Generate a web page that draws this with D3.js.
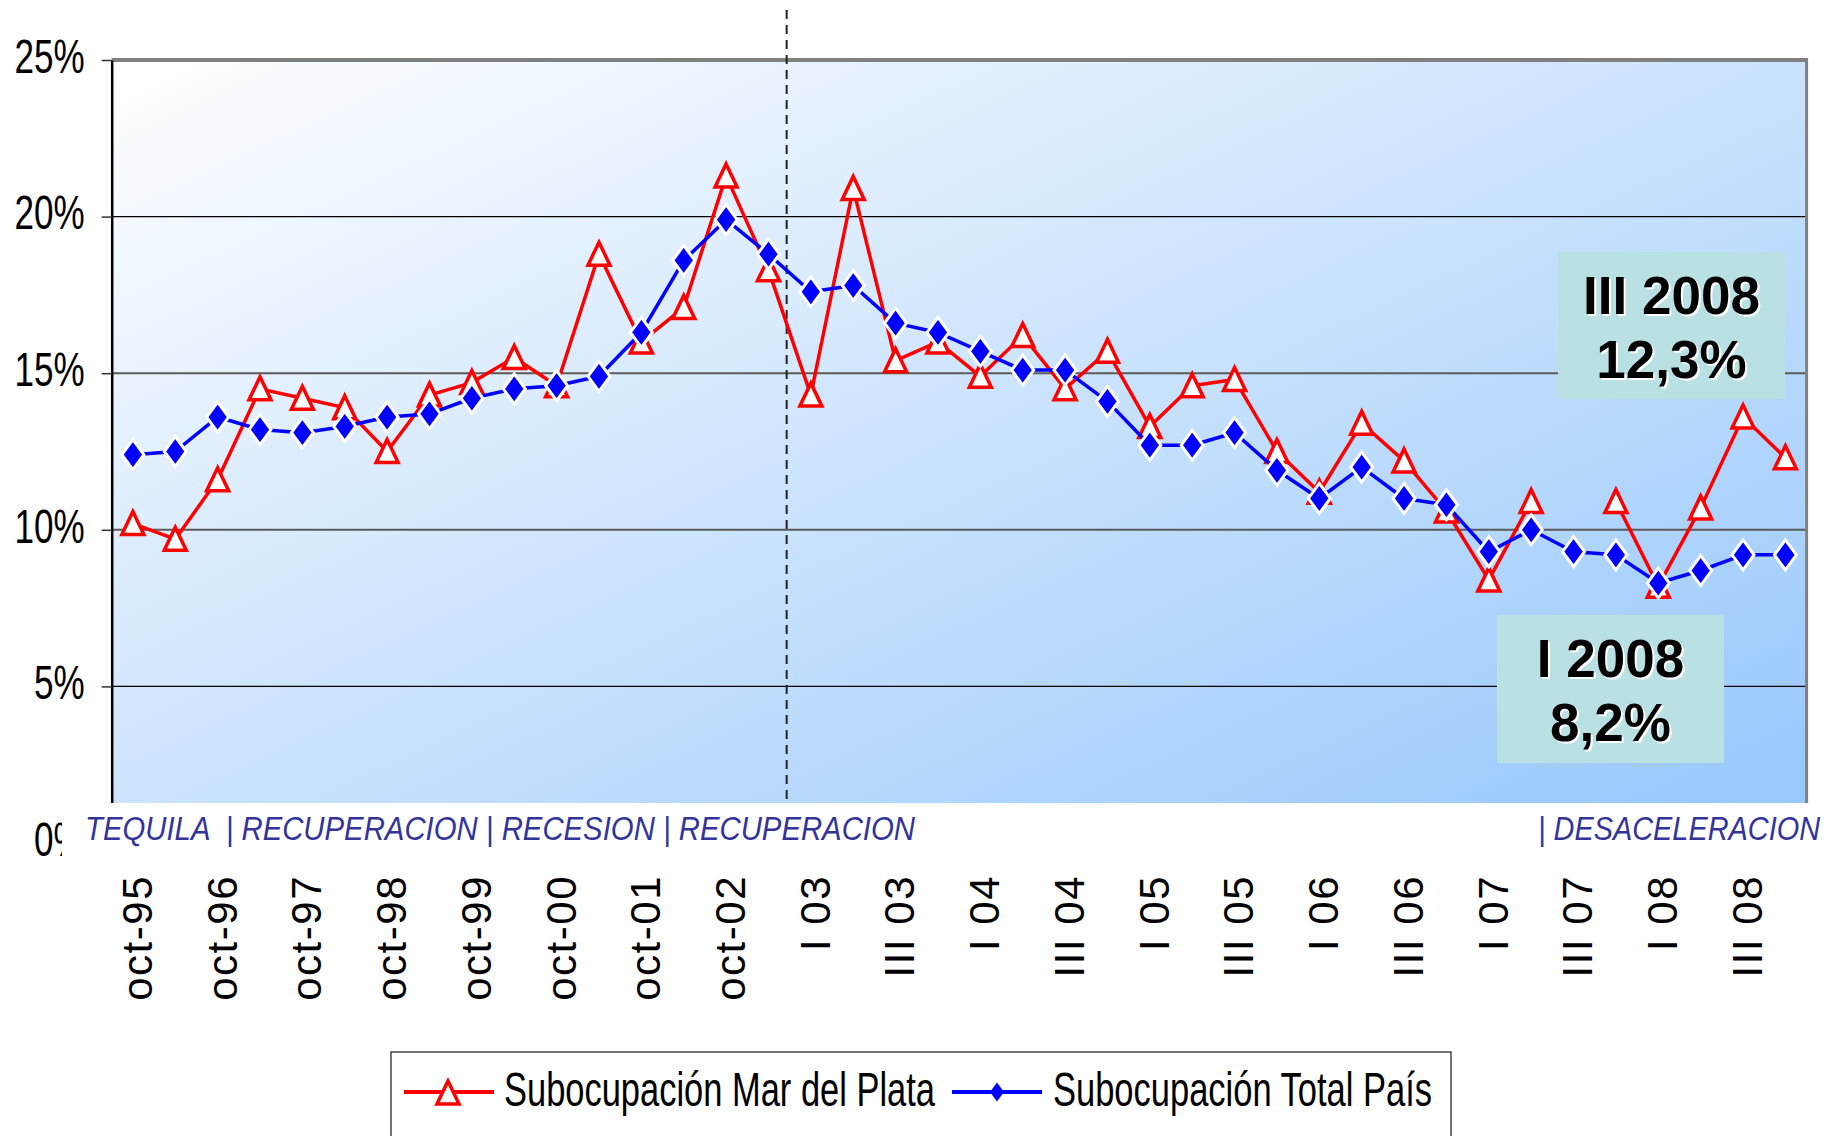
<!DOCTYPE html>
<html>
<head>
<meta charset="utf-8">
<script src="https://cdn.jsdelivr.net/npm/d3@7"></script>
<style>
  body { margin: 0; background: #fff; }
  svg { display: block; }
  text { font-family: "Liberation Sans", Arial, sans-serif; }
</style>
</head>
<body>
<div id="viz"></div>
<script>
// periods: EPH puntual (may / oct) then EPH continua (quarters)
var categories = ["oct-95","may-96","oct-96","may-97","oct-97","may-98","oct-98","may-99",
  "oct-99","may-00","oct-00","may-01","oct-01","may-02","oct-02","may-03",
  "I 03","II 03","III 03","IV 03","I 04","II 04","III 04","IV 04",
  "I 05","II 05","III 05","IV 05","I 06","II 06","III 06","IV 06",
  "I 07","II 07","III 07","IV 07","I 08","II 08","III 08","IV 08"];

var marDelPlata = [10.2, 9.7, 11.6, 14.5, 14.2, 13.9, 12.5, 14.3,
  14.7, 15.5, 14.6, 18.8, 16.0, 17.1, 21.3, 18.3,
  14.3, 20.9, 15.4, 16.0, 14.9, 16.2, 14.5, 15.7,
  13.3, 14.6, 14.8, 12.5, 11.2, 13.4, 12.2, 10.6,
  8.4, 10.9, null, 10.9, 8.2, 10.7, 13.6, 12.3];

var totalPais = [12.4, 12.5, 13.6, 13.2, 13.1, 13.3, 13.6, 13.7,
  14.2, 14.5, 14.6, 14.9, 16.3, 18.6, 19.9, 18.8,
  17.6, 17.8, 16.6, 16.3, 15.7, 15.1, 15.1, 14.1,
  12.7, 12.7, 13.1, 11.9, 11.0, 12.0, 11.0, 10.8,
  9.3, 10.0, 9.3, 9.2, 8.3, 8.7, 9.2, 9.2];

var yTicks = [0, 5, 10, 15, 20, 25];
var xLabels = categories.filter(function(d, i) { return i % 2 === 0; });
var breakAt = "I 03";

var periodLabels = ["TEQUILA  | RECUPERACION | RECESION | RECUPERACION", "| DESACELERACION"];
var noteTitles = ["III 2008", "I 2008"];
var noteValues = ["12,3%", "8,2%"];
var seriesNames = ["Subocupación Mar del Plata", "Subocupación Total País"];

var width = 1843,
    height = 1136,
    plotLeft = 111.7,
    plotRight = 1806.6,
    plotTop = 60,
    plotCut = 803;

var svg = d3.select('#viz').append('svg')
  .attr('width', width)
  .attr('height', height);

var xScale = d3.scaleBand()
  .domain(categories)
  .range([plotLeft, plotRight]);

var yScale = d3.scaleLinear()
  .domain([0, 25])
  .range([843, plotTop]);

function cx(d) { return xScale(d) + xScale.bandwidth() / 2; }

// squeeze text horizontally (original chart was stretched vertically)
function squeeze(sel, k) {
  sel.each(function() {
    var w = this.getComputedTextLength();
    d3.select(this).attr('textLength', w * k).attr('lengthAdjust', 'spacingAndGlyphs');
  });
}

var grad = svg.append('defs').append('linearGradient')
  .attr('id', 'bg')
  .attr('x1', 0).attr('y1', 0).attr('x2', 1).attr('y2', 1);
grad.append('stop').attr('offset', '0%').attr('stop-color', '#ffffff');
grad.append('stop').attr('offset', '100%').attr('stop-color', '#94c6fc');

// plot area
svg.append('rect')
  .attr('x', plotLeft)
  .attr('y', yScale(25))
  .attr('width', plotRight - plotLeft)
  .attr('height', yScale(0) - yScale(25))
  .attr('fill', 'url(#bg)');

svg.append('g').selectAll('line')
  .data([5, 10, 15, 20])
  .enter().append('line')
    .attr('x1', plotLeft)
    .attr('x2', plotRight)
    .attr('y1', function(d) { return yScale(d); })
    .attr('y2', function(d) { return yScale(d); })
    .attr('stroke', function(d) { return (d === 20 || d === 5) ? '#000' : '#5a5a5a'; })
    .attr('stroke-width', function(d) { return (d === 20 || d === 5) ? 1.3 : 2; });

svg.append('line')
  .attr('x1', plotLeft).attr('x2', plotRight)
  .attr('y1', yScale(25)).attr('y2', yScale(25))
  .attr('stroke', '#808080').attr('stroke-width', 4);

svg.append('line')
  .attr('x1', plotRight).attr('x2', plotRight)
  .attr('y1', yScale(25) - 2).attr('y2', yScale(0))
  .attr('stroke', '#808080').attr('stroke-width', 3);

// start of EPH continua
svg.append('line')
  .attr('x1', xScale(breakAt) - 3).attr('x2', xScale(breakAt) - 3)
  .attr('y1', 10).attr('y2', yScale(0))
  .attr('stroke', '#222').attr('stroke-width', 2)
  .attr('stroke-dasharray', '9,6');

var line = d3.line()
  .defined(function(d) { return d[1] != null; })
  .x(function(d) { return cx(d[0]); })
  .y(function(d) { return yScale(d[1]); });

var redData = categories.map(function(c, i) { return [c, marDelPlata[i]]; });
var blueData = categories.map(function(c, i) { return [c, totalPais[i]]; });

var triangle = 'M0,-12L11,11L-11,11Z';
var diamond = 'M0,-15L11,0L0,15L-11,0Z';

svg.append('path')
  .attr('d', line(redData))
  .attr('fill', 'none')
  .attr('stroke', '#ff0000')
  .attr('stroke-width', 3.5)
  .attr('stroke-linejoin', 'round');

svg.append('g').selectAll('path')
  .data(redData.filter(function(d) { return d[1] != null; }))
  .enter().append('path')
    .attr('d', triangle)
    .attr('transform', function(d) { return 'translate(' + cx(d[0]) + ',' + yScale(d[1]) + ')'; })
    .attr('fill', '#fff')
    .attr('stroke', '#ff0000')
    .attr('stroke-width', 3.5);

svg.append('path')
  .attr('d', line(blueData))
  .attr('fill', 'none')
  .attr('stroke', '#0000ff')
  .attr('stroke-width', 3.5)
  .attr('stroke-linejoin', 'round');

svg.append('g').selectAll('path')
  .data(blueData)
  .enter().append('path')
    .attr('d', diamond)
    .attr('transform', function(d) { return 'translate(' + cx(d[0]) + ',' + yScale(d[1]) + ')'; })
    .attr('fill', '#0000ff')
    .attr('stroke', '#fff')
    .attr('stroke-width', 3);

// y axis
var yAxis = d3.axisLeft(yScale)
  .tickValues(yTicks)
  .tickFormat(function(d) { return d + '%'; })
  .tickSize(10)
  .tickSizeOuter(0)
  .tickPadding(17);

var yGuide = svg.append('g')
  .attr('transform', 'translate(' + plotLeft + ',0)')
  .call(yAxis);
yGuide.select('.domain').attr('stroke', '#000').attr('stroke-width', 2.5);
yGuide.selectAll('.tick line').attr('stroke', '#333').attr('stroke-width', 1.5);
yGuide.selectAll('.tick text')
  .attr('font-family', '"Liberation Sans", Arial, sans-serif')
  .attr('font-size', 48)
  .attr('fill', '#000')
  .attr('y', -3)
  .call(squeeze, 0.73);

// text box over the bottom of the plot
svg.append('rect')
  .attr('x', 62).attr('y', plotCut)
  .attr('width', width - 62).attr('height', 66)
  .attr('fill', '#fff');

svg.append('text')
  .attr('x', 85).attr('y', 840)
  .attr('font-size', 34)
  .attr('font-style', 'italic')
  .attr('fill', '#333399')
  .attr('textLength', 830)
  .attr('lengthAdjust', 'spacingAndGlyphs')
  .style('white-space', 'pre')
  .text(periodLabels[0]);

svg.append('text')
  .attr('x', 1538).attr('y', 840)
  .attr('font-size', 34)
  .attr('font-style', 'italic')
  .attr('fill', '#333399')
  .attr('textLength', 282)
  .attr('lengthAdjust', 'spacingAndGlyphs')
  .text(periodLabels[1]);

// x axis labels
var xAxis = d3.axisBottom(xScale)
  .tickValues(xLabels)
  .tickSize(0);

var xGuide = svg.append('g')
  .attr('transform', 'translate(0,' + yScale(0) + ')')
  .call(xAxis);
xGuide.select('.domain').remove();
xGuide.selectAll('.tick text')
  .attr('font-family', '"Liberation Sans", Arial, sans-serif')
  .attr('font-size', 42)
  .attr('letter-spacing', 1.5)
  .attr('fill', '#000')
  .attr('transform', 'rotate(-90)')
  .attr('x', -32)
  .attr('y', 0)
  .attr('dy', '0.45em')
  .style('text-anchor', 'end');

// annotation boxes
var notes = [
  { x: 1558, y: 252, w: 227, h: 147 },
  { x: 1497, y: 615, w: 227, h: 148 }
];

notes.forEach(function(n, i) {
  var g = svg.append('g');
  g.append('rect')
    .attr('x', n.x).attr('y', n.y)
    .attr('width', n.w).attr('height', n.h)
    .attr('fill', '#b9e0e3');
  [noteTitles[i], noteValues[i]].forEach(function(t, j) {
    g.append('text')
      .attr('x', n.x + n.w / 2 + 2).attr('y', n.y + 62 + j * 64 + 2)
      .attr('text-anchor', 'middle')
      .attr('font-size', 53).attr('font-weight', 'bold')
      .attr('fill', '#fff')
      .text(t);
    g.append('text')
      .attr('x', n.x + n.w / 2).attr('y', n.y + 62 + j * 64)
      .attr('text-anchor', 'middle')
      .attr('font-size', 53).attr('font-weight', 'bold')
      .attr('fill', '#000')
      .text(t);
  });
});

// legend
var legend = svg.append('g');
legend.append('rect')
  .attr('x', 391).attr('y', 1052)
  .attr('width', 1060).attr('height', 120)
  .attr('fill', '#fff')
  .attr('stroke', '#444')
  .attr('stroke-width', 1.5);

legend.append('line')
  .attr('x1', 404).attr('x2', 494).attr('y1', 1092).attr('y2', 1092)
  .attr('stroke', '#ff0000').attr('stroke-width', 4);
legend.append('path')
  .attr('d', triangle)
  .attr('transform', 'translate(448,1093)')
  .attr('fill', '#fff').attr('stroke', '#ff0000').attr('stroke-width', 3.5);
legend.append('text')
  .attr('x', 504).attr('y', 1106)
  .attr('font-size', 48)
  .attr('textLength', 431)
  .attr('lengthAdjust', 'spacingAndGlyphs')
  .text(seriesNames[0]);

legend.append('line')
  .attr('x1', 952).attr('x2', 1042).attr('y1', 1092).attr('y2', 1092)
  .attr('stroke', '#0000ff').attr('stroke-width', 4);
legend.append('path')
  .attr('d', 'M0,-9.5L7,0L0,9.5L-7,0Z')
  .attr('transform', 'translate(997,1092)')
  .attr('fill', '#0000ff');
legend.append('text')
  .attr('x', 1053).attr('y', 1106)
  .attr('font-size', 48)
  .attr('textLength', 379)
  .attr('lengthAdjust', 'spacingAndGlyphs')
  .text(seriesNames[1]);
</script>
</body>
</html>
